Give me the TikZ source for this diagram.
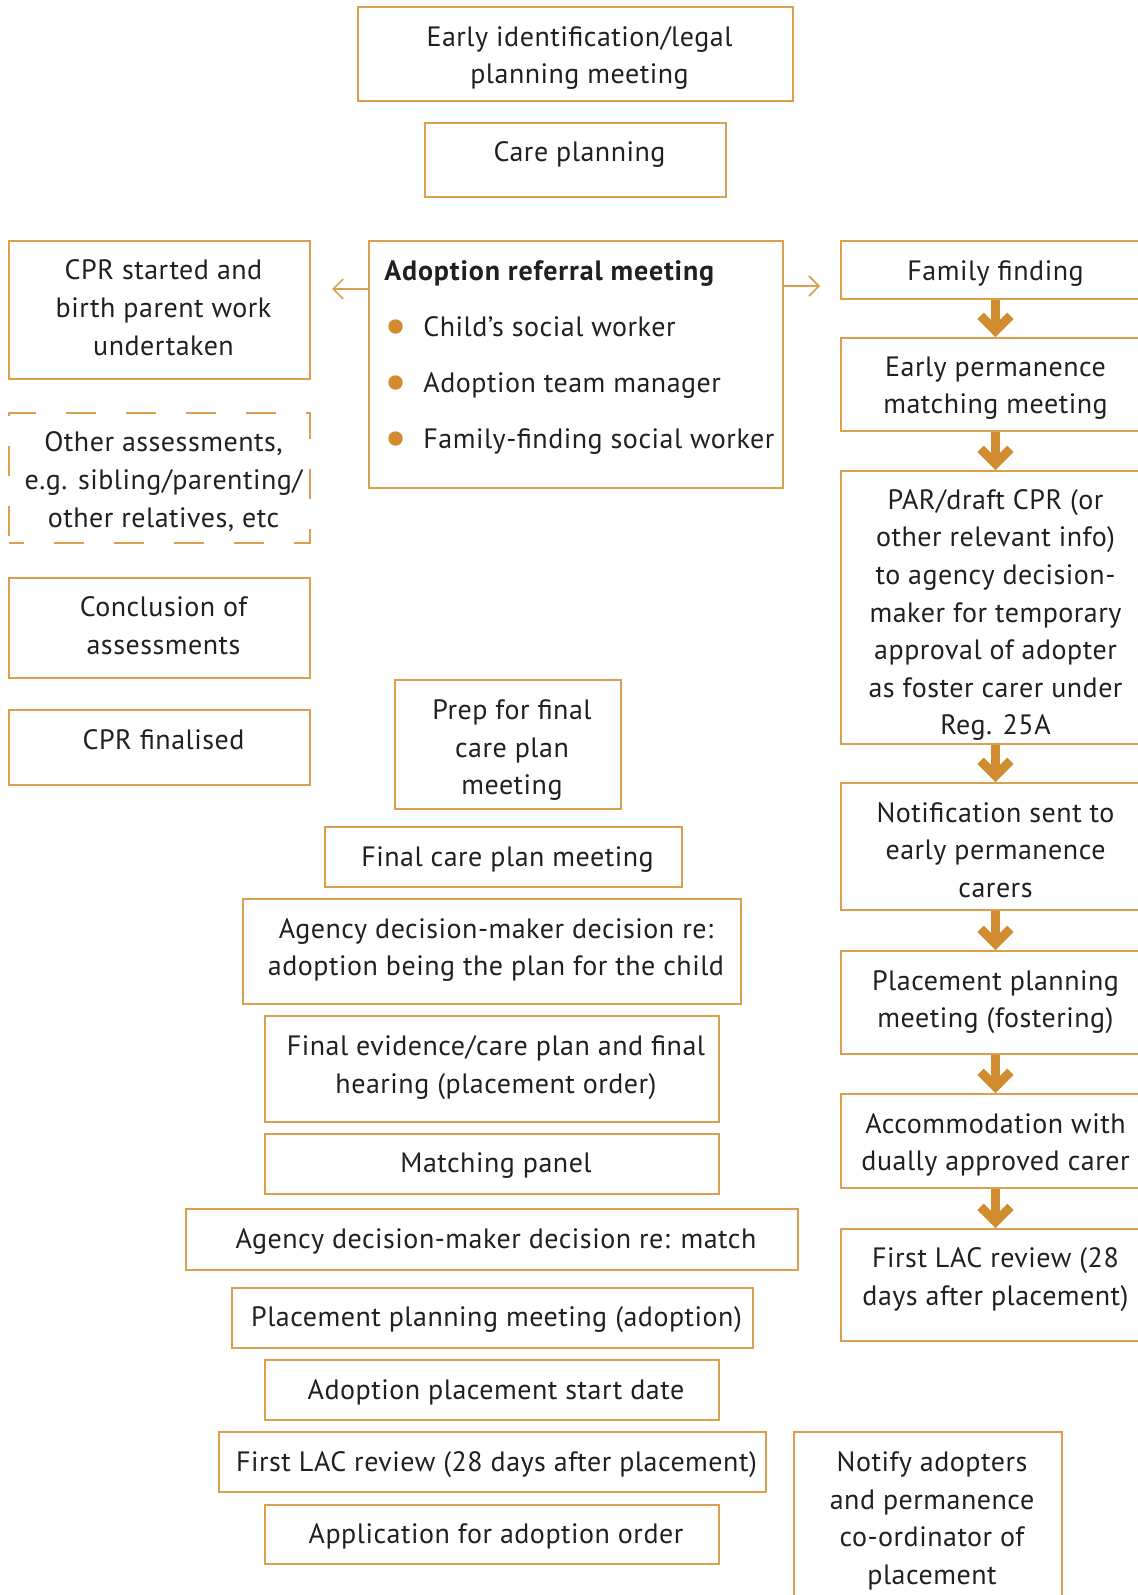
\documentclass[tikz,border=0pt]{standalone}
\usepackage{fontspec}
\setmainfont{PT Sans}[LetterSpace=1.8, BoldFeatures={LetterSpace=3}]
\usepackage{tikz}
\usetikzlibrary{positioning}
\usetikzlibrary{arrows.meta}
\definecolor{ochre}{RGB}{218,160,80}
\definecolor{arrowcol}{RGB}{208,140,46}
\definecolor{txt}{RGB}{35,31,32}
\newlength{\txshift}
\setlength{\txshift}{4pt}
\newcommand{\boxtext}[2][0pt]{\raisebox{#1}[\height][\depth]{\begin{tabular}{@{\hspace{\txshift}}c@{}}#2\end{tabular}}}

\begin{document}
\begin{tikzpicture}[x=0.5pt, y=-0.5pt,
  every node/.style={font=\fontsize{14}{18.8}\selectfont, text=txt},
  box/.style={draw=ochre, line width=0.8pt, align=center, inner sep=0pt},
  dashbox/.style={box, dash pattern=on 15pt off 15pt, dash phase=7.5pt},
  bigarr/.style={draw=arrowcol, line width=4.5pt, -{Straight Barb[length=7.5pt, width=15pt]}},
  thinarr/.style={draw=ochre, line width=0.8pt, -{Straight Barb[length=5pt, width=10pt]}},
  bul/.style={fill=arrowcol}]
\useasboundingbox (0,0) rectangle (1137,1595);

\node[box, minimum width=217.5pt, minimum height=47pt] (early) at (575.5,54) {\boxtext[-1.8pt]{Early identification/legal\\planning meeting}};
\node[box, minimum width=150.5pt, minimum height=37pt] (care) at (575.5,160) {\boxtext[3.2pt]{Care planning}};

\node[box, minimum width=150.5pt, minimum height=69pt] (cprstart) at (159.5,310) {\boxtext{CPR started and\\birth parent work\\undertaken}};
\node[dashbox, minimum width=150.5pt, minimum height=65pt] (other) at (159.5,478) {\boxtext[-2pt]{Other assessments,\\e.g. sibling/parenting/\\other relatives, etc}};
\node[box, minimum width=150.5pt, minimum height=50pt] (concl) at (159.5,628) {\boxtext{Conclusion of\\assessments}};
\node[box, minimum width=150.5pt, minimum height=37.5pt] (cprfinal) at (159.5,747.5) {\boxtext[3pt]{CPR finalised}};

\node[box, minimum width=207pt, minimum height=123.5pt] (referral) at (576,364.5) {};
\node[anchor=base west, inner sep=0pt, font=\fontsize{14}{18.8}\selectfont\bfseries] (reftitle) at (384,280) {Adoption referral meeting};
\node[anchor=base west, inner sep=0pt] (item1) at (423,336.5) {Child’s social worker};
\node[anchor=base west, inner sep=0pt] (item2) at (423,392.5) {Adoption team manager};
\node[anchor=base west, inner sep=0pt] (item3) at (423,448.5) {Family-finding social worker};
\fill[bul] (395.5,326.5) circle (3.6pt);
\fill[bul] (395.5,382.5) circle (3.6pt);
\fill[bul] (395.5,438.5) circle (3.6pt);
\coordinate (lt) at (332,289);
\coordinate (rt) at (820,286);
\draw[thinarr] (referral.west |- lt) -- (lt);
\draw[thinarr] (referral.east |- rt) -- (rt);

\setlength{\txshift}{0pt}
\node[box, minimum width=154.5pt, minimum height=29pt] (ff) at (995.5,270) {\boxtext[-1.5pt]{Family finding}};
\node[box, minimum width=154.5pt, minimum height=46.5pt] (epmm) at (995.5,384.5) {\boxtext[-1.5pt]{Early permanence\\matching meeting}};
\node[box, minimum width=154.5pt, minimum height=136.5pt] (par) at (995.5,607.5) {\boxtext[-3.5pt]{PAR/draft CPR (or\\other relevant info)\\to agency decision-\\maker for temporary\\approval of adopter\\as foster carer under\\Reg. 25A}};
\node[box, minimum width=154.5pt, minimum height=63.5pt] (notif) at (995.5,846.5) {\boxtext[-2.8pt]{Notification sent to\\early permanence\\carers}};
\node[box, minimum width=154.5pt, minimum height=51.5pt] (ppmf) at (995.5,1002.5) {\boxtext[0.6pt]{Placement planning\\meeting (fostering)}};
\node[box, minimum width=154.5pt, minimum height=47pt] (accom) at (995.5,1141) {\boxtext[-1.8pt]{Accommodation with\\dually approved carer}};
\node[box, minimum width=154.5pt, minimum height=56pt] (lacr) at (995.5,1285) {\boxtext[2.9pt]{First LAC review (28\\days after placement)}};
\draw[bigarr] (ff) -- (epmm);
\draw[bigarr] (epmm) -- (par);
\draw[bigarr] (par) -- (notif);
\draw[bigarr] (notif) -- (ppmf);
\draw[bigarr] (ppmf) -- (accom);
\draw[bigarr] (accom) -- (lacr);
\setlength{\txshift}{4pt}

\node[box, minimum width=113pt, minimum height=64.5pt] (prep) at (508,744.5) {\boxtext[-2.6pt]{Prep for final\\care plan\\meeting}};
\node[box, minimum width=178.5pt, minimum height=30pt] (fcpm) at (503.5,857) {\boxtext[-1pt]{Final care plan meeting}};
\node[box, minimum width=249pt, minimum height=52.5pt] (adm1) at (492,951.5) {\boxtext[1pt]{Agency decision-maker decision re:\\adoption being the plan for the child}};
\node[box, minimum width=227pt, minimum height=53pt] (fe) at (492,1069) {\boxtext[1pt]{Final evidence/care plan and final\\hearing (placement order)}};
\node[box, minimum width=227pt, minimum height=30pt] (mp) at (492,1164) {\boxtext[-0.7pt]{Matching panel}};
\node[box, minimum width=306pt, minimum height=30.5pt] (adm2) at (492,1239.5) {\boxtext[-0.5pt]{Agency decision-maker decision re: match}};
\node[box, minimum width=260.5pt, minimum height=30pt] (ppma) at (492.5,1318) {\boxtext[-0.5pt]{Placement planning meeting (adoption)}};
\node[box, minimum width=227pt, minimum height=30pt] (apsd) at (492,1390) {\boxtext[-1pt]{Adoption placement start date}};
\node[box, minimum width=273.5pt, minimum height=30pt] (lac) at (492.5,1462) {\boxtext[-1pt]{First LAC review (28 days after placement)}};
\node[box, minimum width=227pt, minimum height=29.5pt] (afao) at (492,1534.5) {\boxtext[-0.5pt]{Application for adoption order}};
\node[box, minimum width=134pt, minimum height=89pt] (notify) at (928,1521) {\boxtext[0.2pt]{Notify adopters\\and permanence\\co-ordinator of\\placement}};
\end{tikzpicture}
\end{document}
